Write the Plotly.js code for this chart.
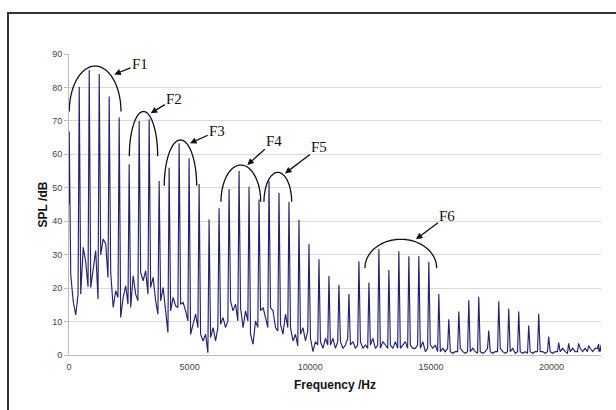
<!DOCTYPE html>
<html>
<head>
<meta charset="utf-8">
<script src="https://cdn.plot.ly/plotly-3.0.1.min.js"></script>
<style>
  html, body { margin:0; padding:0; background:#ffffff; overflow:hidden; }
  #chart { width:616px; height:410px; }
  #frame { position:absolute; left:7px; top:12px; width:1000px; height:1000px;
           border-left:2px solid #333; border-top:2px solid #333; pointer-events:none; }
</style>
</head>
<body>
<div id="chart"></div>
<div id="frame"></div>
<script>
// ---- data ----
const startHz = 0, startDb = 45;
const endHz = 22050, endDb = 3;
const harmonicHz = [10, 424, 838, 1252, 1666, 2080, 2494, 2908, 3322, 3736, 4150, 4564, 4978, 5392,
  5806, 6220, 6634, 7048, 7462, 7876, 8290, 8704, 9118, 9532, 9946, 10360, 10774, 11188, 11602,
  12016, 12430, 12844, 13258, 13672, 14086, 14500, 14914, 15328, 15742, 16156, 16570, 16984,
  17398, 17812, 18226, 18640, 19054, 19468, 19882, 20296, 20710, 21124, 21538, 21952];
const harmonicDb = [66.8, 80.2, 85.2, 84.0, 77.3, 71.0, 57.0, 70.0, 70.5, 52.0, 56.0, 63.3, 58.8,
  51.1, 40.5, 43.9, 49.6, 55.0, 50.3, 46.5, 52.0, 48.5, 45.8, 40.4, 33.2, 28.6, 23.6, 21.0, 18.2,
  28.0, 21.7, 31.7, 25.4, 31.0, 29.5, 29.6, 27.9, 18.2, 10.7, 13.0, 16.4, 17.4, 7.3, 16.1, 13.8,
  13.0, 8.8, 12.3, 5.5, 3.7, 3.5, 3.5, 2.8, 3.3];
// noise floor between consecutive harmonics (4 readings per gap)
const gapDb = [
  [24, 16, 12, 18], [18.2, 32.2, 27.7, 20.4], [20.2, 26.2, 31.2, 16.7], [30, 34.7, 33.2, 23.2],
  [24.7, 14.2, 19.2, 17.2], [11.2, 17.2, 20.7, 15.2], [14.2, 23.7, 18.2, 16.2], [24.7, 22.2, 25.2, 18.2],
  [20.2, 23.2, 16.2, 12.2], [16.2, 20.2, 13.2, 6.7], [13.2, 17.2, 14.7, 14.2], [15.2, 15.7, 13.2, 10.2],
  [6.2, 9.2, 12.2, 8.2], [6.2, 4.2, 6.2, 0.7], [5.2, 8.2, 4.2, 8.2], [9.2, 11.2, 8.2, 10.2],
  [16.2, 13.2, 15.2, 10.2], [14.2, 8.2, 13.2, 10.2], [6.2, 3.2, 10.2, 8.2], [13.2, 14.2, 11.2, 8.2],
  [14.2, 13.2, 8.2, 7.2], [9.2, 6.2, 12.2, 8.2], [8.2, 4.2, 6.2, 2.7], [6.2, 8.2, 4.2, 7.2],
  [5, 1, 4, 3], [4, 2, 5, 3], [3, 5, 2, 4], [4, 2, 3, 5], [3, 4, 2, 3], [4, 2, 3, 2],
  [3, 5, 2, 3], [2, 4, 3, 2], [3, 2, 4, 2], [2, 3, 4, 2], [3, 2, 2, 3], [2, 4, 1, 2],
  [3, 2, 3, 1], [1, 2, 1, 2], [1, 0.5, 1, 1], [2, 1, 0.5, 1], [1, 2, 1, 0.5], [1, 0.5, 1, 2],
  [1, 0.5, 1, 1], [2, 1, 0.5, 1], [1, 2, 0.5, 1], [1, 0.5, 1, 0.5], [1, 0.5, 1, 1], [1, 1, 0.5, 1],
  [1, 0.5, 1, 1], [1, 2, 1, 0.5], [1, 2, 1, 1], [2, 1, 2, 1], [2, 1, 2, 2], [1, 2, 1, 2]
];
const gapFrac = [0.15, 0.4, 0.65, 0.88];

// annotation arcs (F1..F6)
const arcLabel = ['F1', 'F2', 'F3', 'F4', 'F5', 'F6'];
const arcCenterHz = [1083, 3088, 4620, 7122, 8655, 13752];
const arcHalfWidthHz = [1072, 588, 671, 823, 574, 1486];
const arcBaseDb = [72.8, 59.4, 50.6, 45.8, 45.8, 26.0];
const arcTopDb = [86.4, 72.8, 64.3, 56.8, 54.6, 34.6];
const arrowHeadHz = [1877, 3386, 5014, 7389, 8951, 14380];
const arrowHeadDb = [83.9, 72.3, 63.3, 56.8, 54.3, 34.6];
const labelHz = [2942, 4364, 6146, 8508, 10381, 15686];
const labelDb = [87.0, 76.6, 67.0, 64.1, 62.1, 41.7];

// ---- build the spectrum line ----
const xs = [startHz], ys = [startDb];
for (let k = 0; k < harmonicHz.length; k++) {
  xs.push(harmonicHz[k]); ys.push(harmonicDb[k]);
  const next = k < harmonicHz.length - 1 ? harmonicHz[k + 1] : endHz;
  gapDb[k].forEach((v, j) => {
    xs.push(harmonicHz[k] + gapFrac[j] * (next - harmonicHz[k]));
    ys.push(v);
  });
}
xs.push(endHz); ys.push(endDb);

// ---- arcs as path shapes in data coordinates ----
const shapes = arcLabel.map((_, i) => {
  const pts = [];
  for (let s = 0; s <= 48; s++) {
    const a = Math.PI - Math.PI * s / 48;
    const x = arcCenterHz[i] + arcHalfWidthHz[i] * Math.cos(a);
    const y = arcBaseDb[i] + (arcTopDb[i] - arcBaseDb[i]) * Math.sin(a);
    pts.push((s === 0 ? 'M' : 'L') + x.toFixed(1) + ',' + y.toFixed(2));
  }
  return { type: 'path', xref: 'x', yref: 'y', path: pts.join(' '),
           line: { color: '#111', width: 1.3 } };
});

const annotations = arcLabel.map((t, i) => ({
  x: arrowHeadHz[i], y: arrowHeadDb[i], xref: 'x', yref: 'y',
  ax: labelHz[i], ay: labelDb[i], axref: 'x', ayref: 'y',
  text: t, showarrow: true, arrowhead: 2, arrowsize: 1, arrowwidth: 1.3,
  arrowcolor: '#111', standoff: 0,
  font: { family: 'Liberation Serif, Times New Roman, serif', size: 15, color: '#111' }
}));

const trace = {
  x: xs, y: ys, type: 'scatter', mode: 'lines',
  line: { color: '#232370', width: 1.15 }, hoverinfo: 'skip'
};

const layout = {
  width: 616, height: 410,
  margin: { l: 69, r: 15, t: 54, b: 55 },
  paper_bgcolor: '#ffffff', plot_bgcolor: '#ffffff',
  showlegend: false,
  xaxis: {
    range: [0, 22050], tick0: 0, dtick: 5000, tickformat: 'd',
    showgrid: false, zeroline: false, showline: true, linecolor: '#bdbdbd', linewidth: 1,
    ticks: 'outside', ticklen: 3, tickcolor: 'rgba(0,0,0,0)',
    tickfont: { family: 'Liberation Sans, Arial, sans-serif', size: 9, color: '#444' },
    title: { text: 'Frequency /Hz', standoff: 9,
             font: { family: 'Liberation Sans, Arial, sans-serif', size: 12, color: '#111', weight: 'bold' } }
  },
  yaxis: {
    range: [0, 90], tick0: 0, dtick: 10,
    showgrid: true, gridcolor: '#d9d9d9', gridwidth: 1, zeroline: false,
    showline: true, linecolor: '#bdbdbd', linewidth: 1,
    ticks: 'outside', ticklen: 4, tickcolor: '#bdbdbd',
    tickfont: { family: 'Liberation Sans, Arial, sans-serif', size: 9, color: '#444' },
    title: { text: 'SPL /dB', standoff: 1,
             font: { family: 'Liberation Sans, Arial, sans-serif', size: 12, color: '#111', weight: 'bold' } }
  },
  shapes: shapes,
  annotations: annotations
};

Plotly.newPlot('chart', [trace], layout, { staticPlot: true, displayModeBar: false });
</script>
</body>
</html>
